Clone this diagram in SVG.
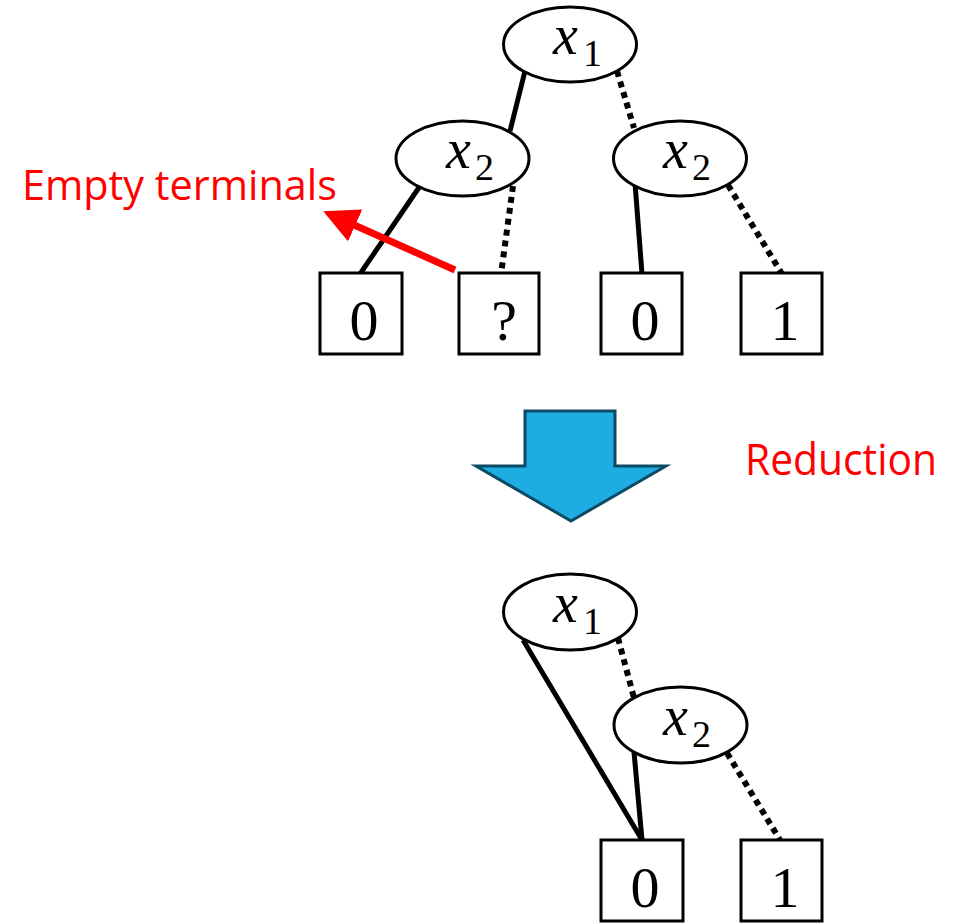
<svg xmlns="http://www.w3.org/2000/svg" width="953" height="923" viewBox="0 0 953 923">
<style>
.node ellipse{fill:#fff;stroke:#000;stroke-width:3}
.term rect{fill:#fff;stroke:#000;stroke-width:3}
.var{font-family:"Liberation Serif",serif;font-style:italic;font-size:56px;fill:#000}
.sub{font-family:"Liberation Serif",serif;font-size:38px;fill:#000}
.num{font-family:"Liberation Serif",serif;font-size:58px;fill:#000;text-anchor:middle}
.solid{stroke:#000;stroke-width:5;fill:none}
.dot{stroke:#000;stroke-width:6;fill:none;stroke-dasharray:6 5}
.red{font-family:"Open Sans","Liberation Sans",sans-serif;fill:#ff0000}
</style>
<defs>
<marker id="redhead" markerWidth="5" markerHeight="5" refX="0.5" refY="2.5" orient="auto" markerUnits="strokeWidth">
<path d="M0,0 L5,2.5 L0,5 z" fill="#ff0000"/>
</marker>
</defs>
<rect width="953" height="923" fill="#fff"/>
<g id="connectors">
<line class="solid" x1="525" y1="71" x2="510" y2="131"/>
<line class="dot" x1="617" y1="71" x2="634" y2="128"/>
<line class="solid" x1="420" y1="186" x2="360" y2="274"/>
<line class="dot" x1="513" y1="186" x2="501" y2="274"/>
<line class="solid" x1="635" y1="183" x2="642" y2="274"/>
<line class="dot" x1="728" y1="185" x2="782" y2="274"/>
<line class="solid" x1="523" y1="640" x2="642" y2="840"/>
<line class="dot" x1="618" y1="638" x2="634" y2="698"/>
<line class="solid" x1="634" y1="752" x2="642" y2="840"/>
<line class="dot" x1="727" y1="753" x2="780" y2="840"/>
</g>
<g id="top-x1" class="node"><ellipse cx="570" cy="44.5" rx="66.5" ry="37.5"/><text class="var" x="553" y="54">x</text><text class="sub" x="583" y="66">1</text></g>
<g id="top-x2-left" class="node"><ellipse cx="462.5" cy="158.5" rx="66.5" ry="37.5"/><text class="var" x="446" y="168">x</text><text class="sub" x="475" y="180">2</text></g>
<g id="top-x2-right" class="node"><ellipse cx="680" cy="158.5" rx="66.5" ry="37.5"/><text class="var" x="663" y="168">x</text><text class="sub" x="692" y="180">2</text></g>
<g id="top-t0a" class="term"><rect x="320" y="273" width="82" height="81"/><text class="num" x="364" y="340">0</text></g>
<g id="top-tq" class="term"><rect x="459" y="273" width="80" height="81"/><text class="num" x="504" y="340">?</text></g>
<g id="top-t0b" class="term"><rect x="601" y="273" width="81" height="81"/><text class="num" x="645" y="340">0</text></g>
<g id="top-t1" class="term"><rect x="741" y="273" width="81" height="81"/><text class="num" x="785" y="340">1</text></g>
<g id="empty-label">
<line x1="455" y1="270" x2="352" y2="224" stroke="#ff0000" stroke-width="7" marker-end="url(#redhead)"/>
<text class="red" x="22" y="200" font-size="42" textLength="315" lengthAdjust="spacingAndGlyphs">Empty terminals</text>
</g>
<g id="reduction-arrow">
<polygon points="525,411 615,411 615,466 666,466 571,521 476,466 525,466" fill="#1EADE3" stroke="#0D4A66" stroke-width="3" stroke-linejoin="miter"/>
<text class="red" x="745" y="475" font-size="44" textLength="192" lengthAdjust="spacingAndGlyphs">Reduction</text>
</g>
<g id="bot-x1" class="node"><ellipse cx="570" cy="612" rx="66.5" ry="38"/><text class="var" x="553" y="622">x</text><text class="sub" x="583" y="634">1</text></g>
<g id="bot-x2" class="node"><ellipse cx="680.5" cy="725" rx="66.5" ry="38"/><text class="var" x="663" y="735">x</text><text class="sub" x="692" y="747">2</text></g>
<g id="bot-t0" class="term"><rect x="601" y="840" width="82" height="81"/><text class="num" x="645" y="907">0</text></g>
<g id="bot-t1" class="term"><rect x="741" y="840" width="81" height="81"/><text class="num" x="785" y="907">1</text></g>
</svg>
